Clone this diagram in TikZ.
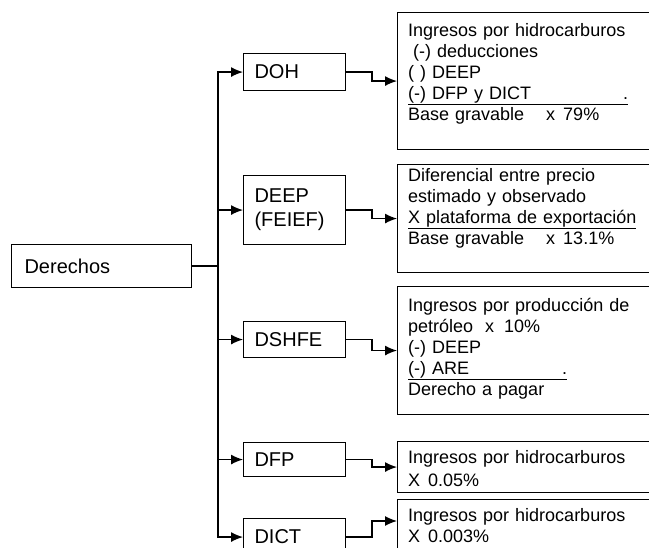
\documentclass[tikz,border=0pt]{standalone}
\usepackage{fontspec}
\setmainfont{Liberation Sans}
\usetikzlibrary{arrows.meta, positioning, calc}

\begin{document}
\begin{tikzpicture}[x=1pt, y=-1pt,
  box/.style={draw, line width=1.1pt, inner sep=0pt, anchor=north west},
  midbox/.style={box, minimum width=102pt, minimum height=37pt, text width=80pt,
    inner xsep=11pt, align=left, font=\fontsize{20}{24}\selectfont},
  resbox/.style={box, minimum width=265pt},
  restext/.style={inner sep=0pt, text width=245pt, align=left,
    font=\fontsize{18}{21}\selectfont},
  link/.style={-{Latex[length=12pt,width=10pt]}, line width=1.3pt}]
  \clip (0,0) rectangle (649,548);

  % left side
  \node[box, minimum width=180pt, minimum height=43pt, text width=154pt,
    inner xsep=13pt, align=left, font=\fontsize{20}{24}\selectfont] (der) at (11,244) {Derechos};
  \node[midbox] (doh) at (243,53) {DOH};
  \node[midbox, minimum height=69pt] (deep) at (243,175) {DEEP\\(FEIEF)};
  \node[midbox, minimum height=36pt] (dshfe) at (243,321) {DSHFE};
  \node[midbox, minimum height=34pt] (dfp) at (243,442) {DFP};
  \node[midbox] (dict) at (243,518) {DICT};

  % right side
  \node[resbox, minimum height=137pt] (r1) at (397,12) {};
  \node[resbox, minimum height=108pt] (r2) at (397,164) {};
  \node[resbox, minimum height=128pt] (r3) at (397,286) {};
  \node[resbox, minimum height=51pt] (r4) at (397,441) {};
  \node[resbox, minimum height=70pt] (r5) at (397,499) {};

  \node[restext, below right=11pt and 11pt of r1.north west] (t1) {Ingresos por hidrocarburos\\
    \hspace*{5pt}(-) deducciones\\
    ( ) DEEP\\
    \underline{\makebox[220pt][l]{(-) DFP y DICT\hfill.}}\\
    Base gravable\hspace{22pt}x\hspace{8pt}79\%};
  \node[restext, below right=4pt and 11pt of r2.north west] (t2) {Diferencial entre precio\\
    estimado y observado\\
    \underline{X plataforma de exportación}\\
    Base gravable\hspace{22pt}x\hspace{8pt}13.1\%};
  \node[restext, below right=12pt and 11pt of r3.north west] (t3) {Ingresos por producción de\\
    petróleo\hspace{12pt}x\hspace{10pt}10\%\\
    (-) DEEP\\
    \underline{\makebox[159pt][l]{(-) ARE\hfill.}}\\
    Derecho a pagar};
  \node[restext, font=\fontsize{18}{23}\selectfont, below right=9pt and 11pt of r4.north west] (t4)
    {Ingresos por hidrocarburos\\ X\hspace{8pt}0.05\%};
  \node[restext, below right=9pt and 11pt of r5.north west] (t5)
    {Ingresos por hidrocarburos\\ X\hspace{8pt}0.003\%};

  % connectors
  \coordinate (fork) at ($(der.east)+(26,0)$);
  \draw[line width=2pt] (der.east) -- (fork);
  \foreach \b in {doh, deep, dshfe, dfp, dict}
    \draw[link] (fork) |- (\b.west);
  \draw[link] (doh.east) -- ++(26,0) |- (r1.west);
  \draw[link] (deep.east) -- ++(26,0) |- (r2.west);
  \draw[link] (dshfe.east) -- ++(26,0) |- (r3.west);
  \draw[link] (dfp.east) -- ++(26,0) |- (r4.west);
  \draw[link] (dict.east) -- ++(26,0) |- ([yshift=-22pt]r5.north west);
\end{tikzpicture}
\end{document}
